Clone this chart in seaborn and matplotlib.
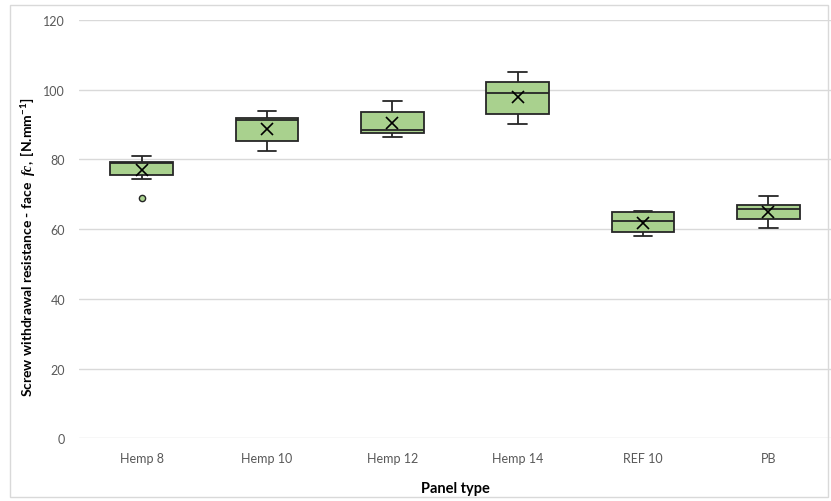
import numpy as np
import pandas as pd
import matplotlib.pyplot as plt
import seaborn as sns

# summary values
panels = ['Hemp 8', 'Hemp 10', 'Hemp 12', 'Hemp 14', 'REF 10', 'PB']
whislo = [74.5, 82.4, 86.5, 90.3, 57.9, 60.4]
q1 = [75.5, 85.2, 87.5, 93.1, 59.1, 62.9]
median = [79.1, 91.4, 88.5, 99.2, 62.4, 65.7]
q3 = [79.3, 92.0, 93.7, 102.3, 64.8, 66.8]
whishi = [81.1, 93.8, 96.7, 105.2, 65.2, 69.5]
means = [76.9, 88.7, 90.5, 97.8, 61.9, 65.0]
outlier_panel = ['Hemp 8']
outlier_value = [68.8]

green = '#a9d18e'
dark = '#262626'

sns.set_style('white')
plt.rcParams['font.family'] = ['Lato', 'DejaVu Sans']
plt.rcParams['mathtext.fontset'] = 'custom'
plt.rcParams['mathtext.rm'] = 'Lato:bold'
plt.rcParams['mathtext.it'] = 'Liberation Serif:italic:bold'

# five points per panel -> quartiles land on the read values
rows = []
for i, p in enumerate(panels):
    for v in [whislo[i], q1[i], median[i], q3[i], whishi[i]]:
        rows.append({'panel': p, 'value': v})
df = pd.DataFrame(rows)
df_mean = pd.DataFrame({'panel': panels, 'value': means})
df_out = pd.DataFrame({'panel': outlier_panel, 'value': outlier_value})

fig = plt.figure(figsize=(8.31, 5.02), dpi=100)
ax = fig.add_axes([79 / 831, 1 - 439.3 / 502, 752 / 831, 418.3 / 502])

sns.boxplot(data=df, x='panel', y='value', order=panels, ax=ax,
            color=green, saturation=1, width=0.5, whis=np.inf,
            linecolor=dark, linewidth=1.3, capwidths=0.15, zorder=3)
sns.pointplot(data=df_mean, x='panel', y='value', order=panels, ax=ax,
              color='black', markers='x', linestyles='none', errorbar=None,
              markersize=8, markeredgewidth=1.2, zorder=4)
sns.stripplot(data=df_out, x='panel', y='value', order=panels, ax=ax,
              jitter=False, color=green, edgecolor=dark, linewidth=1,
              size=4.5, zorder=4)

ax.set_ylim(0, 120)
ax.set_xlim(-0.5, 5.5)
ax.set_yticks(range(0, 121, 20))
ax.yaxis.grid(True, color='#d9d9d9', linewidth=1)
ax.set_axisbelow(True)
for s in ax.spines.values():
    s.set_visible(False)
ax.tick_params(axis='both', length=0, labelsize=9, labelcolor='#595959')
ax.tick_params(axis='x', pad=10)
ax.tick_params(axis='y', pad=10)

ax.set_xlabel('Panel type', fontsize=10.5, fontweight='bold', color='black', labelpad=12)
ax.set_ylabel(r'Screw withdrawal resistance - face  $fc,$ [N.mm$^{-1}$]',
              fontsize=10, fontweight='bold', color='black')
ax.yaxis.set_label_coords(-0.056, 0.46)

# chart border like the original
fig.patches.append(plt.Rectangle((10 / 831, 4 / 502), 818 / 831, 492 / 502,
                                 transform=fig.transFigure, fill=False,
                                 edgecolor='#d9d9d9', linewidth=1))

fig.savefig('out.png', dpi=100)
